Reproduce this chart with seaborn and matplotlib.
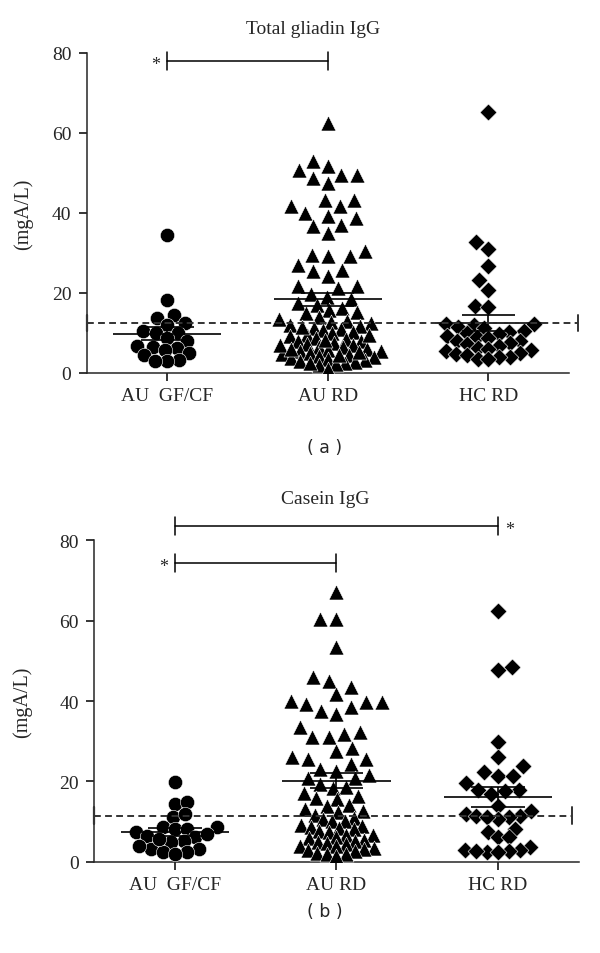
import numpy as np
import matplotlib.pyplot as plt
import seaborn as sns

# groups on the x axis
groups = ["AU  GF/CF", "AU RD", "HC RD"]
markers = ["o", "^", "D"]

# Total gliadin IgG (mgA/L)
gliadin_au_gfcf = [34.5, 18.2, 14.6, 13.8, 12.4, 12.1, 10.4, 10.0, 9.9, 8.8,
                   7.9, 6.8, 6.6, 6.2, 5.8, 5.0, 4.4, 3.2, 2.9, 3.0]
gliadin_au_rd = [62.5, 52.9, 51.7, 50.8, 49.6, 49.6, 48.7, 47.5, 43.3, 43.3,
                 41.7, 41.7, 40.0, 39.2, 38.7, 37.1, 36.7, 35.0, 30.4, 29.2,
                 29.6, 29.2, 27.1, 25.8, 25.4, 24.2, 21.7, 21.7, 21.2,
                 19.8, 18.9, 18.6, 17.4, 17.1, 16.3, 15.8, 15.2, 14.9, 14.0,
                 13.6, 13.1, 12.7, 12.4, 12.0, 11.8, 11.3, 10.9, 10.7, 10.2,
                 9.9, 9.6, 9.2, 8.8, 8.6, 8.1, 7.9, 7.5, 7.2, 7.0,
                 6.6, 6.4, 6.1, 5.8, 5.5, 5.4, 5.0, 4.7, 4.6, 4.2,
                 4.0, 3.7, 3.5, 3.2, 3.0, 2.8, 2.5, 2.2, 1.9, 1.0,
                 11.5, 9.4, 8.3, 6.9, 5.2, 2.6, 4.4, 6.0]
gliadin_hc_rd = [65.2, 32.8, 31.0, 26.8, 23.3, 20.8, 16.7, 16.6, 12.3, 12.2,
                 11.9, 11.4, 11.2, 10.5, 10.3, 9.9, 9.7, 9.2, 8.9, 8.8,
                 8.1, 7.9, 7.4, 7.2, 6.8, 6.3, 6.1, 5.7, 5.5, 4.9,
                 4.8, 4.5, 4.0, 3.9, 3.6, 3.4]
gliadin_cutoff = 12.5

# Casein IgG (mgA/L)
casein_au_gfcf = [19.8, 14.4, 14.8, 11.1, 11.9, 8.6, 8.6, 8.2, 8.2, 7.4,
                  6.5, 6.1, 5.3, 4.9, 3.2, 3.2, 2.4, 2.4, 5.8, 6.9,
                  2.1, 4.0]
casein_au_rd = [67.0, 60.4, 60.4, 53.3, 45.9, 45.0, 43.4, 41.7, 40.1, 39.7,
                39.7, 39.3, 38.4, 37.6, 36.8, 33.5, 32.2, 31.8, 31.0, 31.0,
                28.4, 27.7, 26.0, 25.6, 25.6, 24.4, 23.1, 22.7,
                21.6, 20.9, 20.8, 19.4, 18.7, 18.5, 17.1, 16.4, 15.8, 15.6,
                14.2, 13.9, 13.1, 12.6, 12.4, 11.7, 11.0, 10.6, 10.2, 10.1,
                9.3, 9.0, 8.8, 8.4, 8.1, 7.6, 7.5, 6.8, 6.6, 6.2,
                5.9, 5.5, 5.3, 4.9, 4.7, 4.4, 4.0, 3.9, 3.4, 3.2,
                3.0, 2.7, 2.3, 2.0, 1.9, 1.6]
casein_hc_rd = [62.4, 48.4, 47.8, 29.7, 26.0, 23.9, 22.3, 21.3, 21.4, 19.6,
                18.0, 18.0, 17.7, 16.9, 14.0, 12.7, 11.9, 11.5, 11.5, 11.1,
                10.7, 11.1, 8.2, 7.4, 6.1, 6.1, 3.7, 2.6, 2.9, 2.7,
                3.0, 2.8, 2.5]
casein_cutoff = 11.5

serif = "Liberation Serif"

sns.set_style("ticks")
plt.rcParams["font.family"] = [serif, "DejaVu Serif"]
plt.rcParams["axes.linewidth"] = 1.1

fig = plt.figure(figsize=(6, 9.54), dpi=100)
ax_top = fig.add_axes([0.1445, 0.608, 0.8035, 0.3354])
ax_bot = fig.add_axes([0.157, 0.0954, 0.8075, 0.3375])

# marker sizes used only to lay out the swarm, for values below 12,
# between 12 and 21 and above 21 (wider spread where points are sparse)
swarm_low = [8.5, 6.6, 7.5]
swarm_mid = [8.5, 9.0, 9.5]
swarm_high = [8.5, 11.0, 10.0]
final_sizes = [10.3, 10.8, 8.6]  # drawn marker sizes
all_points = []


def draw_panel(ax, data, cutoff, cut_right, label_x):
    for i, vals in enumerate(data):
        n_before = len(ax.collections)
        sns.swarmplot(x=[groups[i]] * len(vals), y=vals, order=groups,
                      marker=markers[i], color="black", size=swarm_low[i],
                      linewidth=0, ax=ax)
        v = np.asarray(vals)
        for coll in ax.collections[n_before:]:
            if len(coll.get_offsets()) > 0:
                lay = np.select([v < 12, v <= 21],
                                [swarm_low[i], swarm_mid[i]], swarm_high[i])
                coll.set_sizes(lay ** 2)
                all_points.append((coll, final_sizes[i]))

        # mean with SEM
        m = v.mean()
        sem = v.std(ddof=1) / np.sqrt(len(v))
        ax.hlines(m, i - 0.335, i + 0.335, color="black", lw=1.2, zorder=5)
        ax.vlines(i, m - sem, m + sem, color="black", lw=1.2, zorder=5)
        ax.hlines([m - sem, m + sem], i - 0.165, i + 0.165, color="black",
                  lw=1.2, zorder=5)

    # cut-off line
    ax.plot([-0.5, cut_right], [cutoff, cutoff], ls=(0, (3.5, 2.2)),
            color="#333333", lw=1.4, clip_on=False, zorder=6)
    ax.plot([-0.5, -0.5], [cutoff - 2.1, cutoff + 2.1], color="#333333",
            lw=1.6, clip_on=False, zorder=6)
    ax.plot([cut_right, cut_right], [cutoff - 2.1, cutoff + 2.1],
            color="#333333", lw=1.4, clip_on=False, zorder=6)

    ax.set_xlim(-0.5, 2.5)
    ax.set_ylim(0, 80)
    ax.set_yticks([0, 20, 40, 60, 80])
    ax.set_xticks([0, 1, 2])
    ax.set_xticklabels(groups)
    ax.set_xlabel("")
    ax.set_ylabel("(mgA/L)", fontsize=14.5)
    ax.yaxis.set_label_coords(label_x, 0.5)
    ax.tick_params(axis="both", direction="out", length=6, width=1.1,
                   labelsize=14, color="black")
    ax.tick_params(axis="y", pad=5)
    ax.tick_params(axis="x", pad=4)
    sns.despine(ax=ax)


def bracket(ax, x0, x1, y, star_side):
    ax.plot([x0, x1], [y, y], color="black", lw=1.1, clip_on=False)
    for xx in (x0, x1):
        ax.plot([xx, xx], [y - 2.2, y + 2.2], color="black", lw=1.1,
                clip_on=False)
    if star_side == "left":
        ax.text(x0 - 0.07, y - 0.8, "*", ha="center", va="center",
                fontsize=13, clip_on=False)
    else:
        ax.text(x1 + 0.075, y - 0.8, "*", ha="center", va="center",
                fontsize=13, clip_on=False)


draw_panel(ax_top, [gliadin_au_gfcf, gliadin_au_rd, gliadin_hc_rd],
           gliadin_cutoff, 2.56, -0.112)
draw_panel(ax_bot, [casein_au_gfcf, casein_au_rd, casein_hc_rd],
           casein_cutoff, 2.46, -0.129)

bracket(ax_top, 0, 1, 78.0, "left")
bracket(ax_bot, 0, 2, 83.4, "right")
bracket(ax_bot, 0, 1, 74.3, "left")

fig.text(313 / 600, 1 - 30 / 954, "Total gliadin IgG", ha="center",
         va="center", fontsize=14)
fig.text(325 / 600, 1 - 500 / 954, "Casein IgG", ha="center",
         va="center", fontsize=14)
fig.text(325 / 600, 1 - 448 / 954, "( a )", ha="center", va="center",
         fontsize=12.5, family="DejaVu Sans")
fig.text(325 / 600, 1 - 912 / 954, "( b )", ha="center", va="center",
         fontsize=12.5, family="DejaVu Sans")

# lay out the swarms first, then freeze them and draw the real marker size
fig.canvas.draw()
for coll, s in all_points:
    if "draw" in coll.__dict__:
        del coll.draw
    coll.set_sizes([s ** 2])
    coll.set_edgecolor("white")
    coll.set_linewidth(0.4)

fig.savefig("out.png", dpi=100)
